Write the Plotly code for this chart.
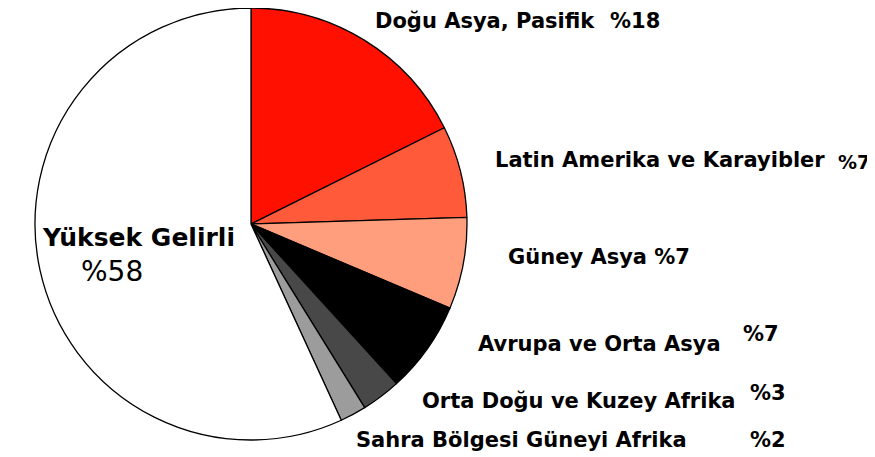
import plotly.graph_objects as go

# page body has an 8px margin; size the figure so it fills the rest of the window
OFF = 8
W, H = 875 - OFF, 457 - OFF

regions = ["Doğu Asya, Pasifik", "Latin Amerika ve Karayibler", "Güney Asya",
           "Avrupa ve Orta Asya", "Orta Doğu ve Kuzey Afrika",
           "Sahra Bölgesi Güneyi Afrika", "Yüksek Gelirli"]
shares = [18, 7, 7, 7, 3, 2, 58]
colors = ["#FF1000", "#FF5A3A", "#FF9E7C", "#000000", "#484848", "#9C9C9C", "#FFFFFF"]
pct_labels = ["%" + str(v) for v in shares]

def px(x): return (x - OFF) / W
def py(y): return 1 - (y - OFF) / H

cx, cy, r = 251, 224, 216

fig = go.Figure(go.Pie(
    labels=regions, values=shares, sort=False, direction="clockwise", rotation=0,
    marker=dict(colors=colors, line=dict(color="#000000", width=1.3)),
    textinfo="none", hoverinfo="label+value", showlegend=False,
    domain=dict(x=[px(cx - r), px(cx + r)], y=[max(0, py(cy + r)), min(1, py(cy - r))]),
))

FONT = "DejaVu Sans, Verdana, sans-serif"
ann = []
def add(text, x, y, size=21, bold=True, top=False):
    ann.append(dict(text=("<b>%s</b>" % text) if bold else text, x=px(x),
                    y=1 if top else py(y),
                    xref="paper", yref="paper", xanchor="left",
                    yanchor="top" if top else "middle", borderpad=0,
                    showarrow=False, font=dict(family=FONT, size=size, color="#000000")))

add(regions[0], 374, 17, top=True)
add(pct_labels[0], 609, 17, top=True)
add(regions[1], 494, 160)
add(pct_labels[1], 837, 162, size=19)
add(regions[2] + " " + pct_labels[2], 507, 257)
add(regions[3], 477, 344)
add(pct_labels[3], 742, 334)
add(regions[4], 421, 401)
add(pct_labels[4], 749, 393)
add(regions[5], 355, 440)
add(pct_labels[5], 749, 440)
add(regions[6], 41, 237, size=25)
add(pct_labels[6], 80, 271, size=28, bold=False)

fig.update_layout(width=W, height=H, margin=dict(l=0, r=0, t=0, b=0),
                  paper_bgcolor="#FFFFFF", plot_bgcolor="#FFFFFF", annotations=ann)

fig.write_html("out.html")
